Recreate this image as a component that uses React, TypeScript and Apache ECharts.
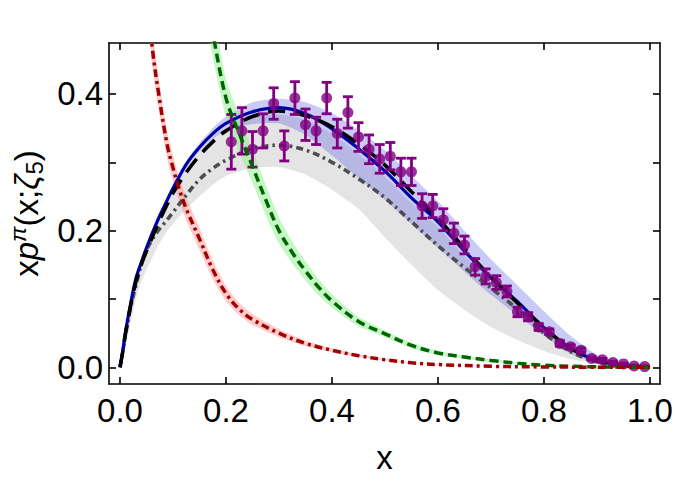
import React, { useEffect, useRef } from "react";
import * as echarts from "echarts";

// ---- data ----
const X_GRID = [0, 0.005, 0.01, 0.02, 0.03, 0.04, 0.05, 0.07, 0.085, 0.1, 0.125, 0.15, 0.175, 0.2, 0.25, 0.3, 0.35, 0.4, 0.45, 0.5, 0.55, 0.6, 0.65, 0.7, 0.75, 0.8, 0.85, 0.9, 0.95, 1];
const BLUE = [0, 0.022, 0.05, 0.093, 0.13, 0.153, 0.175, 0.213, 0.238, 0.262, 0.297, 0.322, 0.342, 0.357, 0.374, 0.38, 0.371, 0.349, 0.32, 0.287, 0.248, 0.213, 0.17, 0.131, 0.096, 0.058, 0.028, 0.01, 0.003, 0];
const BLUE_HI = [0, 0.022, 0.05, 0.093, 0.131, 0.154, 0.176, 0.215, 0.241, 0.266, 0.302, 0.328, 0.35, 0.367, 0.388, 0.393, 0.388, 0.372, 0.347, 0.318, 0.28, 0.243, 0.2, 0.158, 0.12, 0.082, 0.046, 0.018, 0.005, 0];
const BLUE_LO = [0, 0.022, 0.05, 0.093, 0.129, 0.152, 0.174, 0.211, 0.235, 0.258, 0.292, 0.316, 0.334, 0.347, 0.356, 0.357, 0.34, 0.31, 0.277, 0.245, 0.21, 0.175, 0.14, 0.106, 0.076, 0.046, 0.02, 0.007, 0.002, 0];
const BLACK = [0, 0.022, 0.048, 0.09, 0.125, 0.15, 0.17, 0.207, 0.232, 0.255, 0.285, 0.31, 0.33, 0.346, 0.367, 0.375, 0.368, 0.352, 0.327, 0.296, 0.257, 0.218, 0.174, 0.132, 0.094, 0.058, 0.028, 0.01, 0.003, 0];
const GRAY = [0, 0.022, 0.046, 0.088, 0.12, 0.15, 0.172, 0.198, 0.212, 0.227, 0.252, 0.275, 0.291, 0.303, 0.32, 0.325, 0.318, 0.3, 0.276, 0.248, 0.213, 0.178, 0.146, 0.116, 0.085, 0.05, 0.023, 0.008, 0.002, 0];
const GRAY_HI = [0, 0.022, 0.05, 0.092, 0.128, 0.153, 0.174, 0.212, 0.236, 0.258, 0.292, 0.316, 0.336, 0.35, 0.366, 0.37, 0.362, 0.342, 0.312, 0.279, 0.24, 0.205, 0.163, 0.126, 0.092, 0.055, 0.026, 0.009, 0.002, 0];
const GRAY_LO = [0, 0.015, 0.03, 0.065, 0.1, 0.125, 0.143, 0.175, 0.195, 0.21, 0.232, 0.25, 0.267, 0.28, 0.292, 0.293, 0.282, 0.26, 0.232, 0.19, 0.15, 0.113, 0.084, 0.059, 0.04, 0.024, 0.012, 0.005, 0.001, 0];

const RED_X = [0.045, 0.05, 0.06, 0.075, 0.09, 0.1, 0.11, 0.125, 0.15, 0.175, 0.2, 0.225, 0.25, 0.3, 0.35, 0.4, 0.45, 0.5, 0.55, 0.6, 0.7, 0.8, 0.9, 1.0];
const RED = [0.63, 0.57, 0.474, 0.39, 0.322, 0.292, 0.265, 0.232, 0.188, 0.143, 0.108, 0.085, 0.07, 0.05, 0.035, 0.025, 0.017, 0.011, 0.0065, 0.004, 0.0015, 0.0005, 0.0001, 0];
const RED_HI = [0.67, 0.605, 0.502, 0.413, 0.342, 0.311, 0.283, 0.249, 0.204, 0.157, 0.119, 0.094, 0.078, 0.056, 0.039, 0.028, 0.019, 0.012, 0.0072, 0.0045, 0.0017, 0.0006, 0.0001, 0];
const RED_LO = [0.59, 0.535, 0.446, 0.367, 0.302, 0.273, 0.247, 0.215, 0.172, 0.129, 0.097, 0.076, 0.062, 0.044, 0.031, 0.022, 0.015, 0.0098, 0.0058, 0.0035, 0.0013, 0.0004, 0.0001, 0];

const GREEN_X = [0.16, 0.175, 0.2, 0.225, 0.25, 0.275, 0.3, 0.325, 0.35, 0.375, 0.4, 0.45, 0.5, 0.55, 0.6, 0.65, 0.7, 0.75, 0.8, 0.85, 0.9, 0.95, 1.0];
const GREEN = [0.56, 0.49, 0.394, 0.342, 0.294, 0.245, 0.2, 0.168, 0.141, 0.117, 0.097, 0.067, 0.049, 0.032, 0.021, 0.015, 0.01, 0.006, 0.003, 0.0015, 0.0007, 0.0002, 0];
const GREEN_HI = [0.6, 0.525, 0.422, 0.369, 0.318, 0.267, 0.219, 0.184, 0.155, 0.129, 0.107, 0.074, 0.054, 0.036, 0.024, 0.017, 0.012, 0.007, 0.004, 0.002, 0.001, 0.0003, 0];
const GREEN_LO = [0.52, 0.455, 0.366, 0.315, 0.27, 0.223, 0.181, 0.152, 0.127, 0.105, 0.087, 0.06, 0.044, 0.028, 0.018, 0.013, 0.008, 0.005, 0.002, 0.001, 0.0004, 0.0001, 0];

const DATA_X = [0.21, 0.23, 0.25, 0.27, 0.29, 0.31, 0.33, 0.35, 0.37, 0.39, 0.41, 0.43, 0.45, 0.47, 0.49, 0.51, 0.53, 0.55, 0.57, 0.59, 0.61, 0.63, 0.65, 0.67, 0.69, 0.71, 0.73, 0.75, 0.77, 0.79, 0.81, 0.83, 0.85, 0.87, 0.89, 0.91, 0.93, 0.95, 0.97, 0.99];
const DATA_Y = [0.33, 0.346, 0.319, 0.346, 0.386, 0.324, 0.394, 0.355, 0.346, 0.394, 0.342, 0.373, 0.337, 0.319, 0.305, 0.309, 0.286, 0.286, 0.236, 0.236, 0.216, 0.196, 0.179, 0.147, 0.133, 0.124, 0.111, 0.081, 0.074, 0.059, 0.052, 0.035, 0.03, 0.025, 0.013, 0.011, 0.007, 0.005, 0.002, 0.001];
const DATA_ERR = [0.04, 0.034, 0.026, 0.025, 0.023, 0.022, 0.024, 0.023, 0.02, 0.023, 0.021, 0.023, 0.021, 0.021, 0.021, 0.02, 0.02, 0.02, 0.018, 0.017, 0.016, 0.015, 0.013, 0.012, 0.011, 0.01, 0.008, 0.007, 0.006, 0.005, 0.004, 0.004, 0.003, 0.003, 0.002, 0.002, 0.002, 0.001, 0.001, 0.001];

const X_TICKS = [0, 0.2, 0.4, 0.6, 0.8, 1.0];
const Y_TICKS = [0, 0.1, 0.2, 0.3, 0.4];
const Y_LABELS = [0, 0.2, 0.4];

const FONT = "'Liberation Sans', Arial, sans-serif";

function pairs(xs: number[], ys: number[]) {
  return xs.map((x, i) => [x, ys[i]]);
}

function bandSeries(xs: number[], lo: number[], hi: number[], fill: string, z: number) {
  return {
    type: "custom",
    z,
    silent: true,
    data: xs.map((x, i) => [x, lo[i], hi[i]]),
    encode: { x: 0, y: [1, 2] },
    renderItem: (params: any, api: any) => {
      if (params.dataIndex !== 0) return null;
      const top = xs.map((x, i) => api.coord([x, hi[i]]));
      const bot = xs.map((x, i) => api.coord([x, lo[i]])).reverse();
      const cs = params.coordSys;
      return {
        type: "polygon",
        shape: { points: top.concat(bot), smooth: 0.2 },
        style: { fill, stroke: "none" },
        clipPath: { type: "rect", shape: { x: cs.x, y: cs.y, width: cs.width, height: cs.height } },
      };
    },
  };
}

function lineSeries(xs: number[], ys: number[], color: string, width: number, type: any, z: number) {
  return {
    type: "line",
    z,
    data: pairs(xs, ys),
    showSymbol: false,
    symbol: "none",
    smooth: 0.35,
    clip: true,
    silent: true,
    lineStyle: { color, width, type, cap: "butt" },
  };
}

const tickCommon = { inside: true, length: 7, lineStyle: { color: "#000", width: 1.6 } };
const lineCommon = { show: true, onZero: false, lineStyle: { color: "#000", width: 1.6 } };

export default function App() {
  const ref = useRef<HTMLDivElement>(null);
  useEffect(() => {
    if (!ref.current) return;
    const chart = echarts.init(ref.current, undefined, { renderer: "svg" });
    const option: any = {
      animation: false,
      backgroundColor: "#fff",
      grid: { left: 109, right: 15, top: 43, bottom: 98, containLabel: false, outerBoundsMode: "none" },
      xAxis: [
        {
          type: "value",
          min: -0.02075,
          max: 1.0189,
          position: "bottom",
          splitLine: { show: false },
          axisLine: lineCommon,
          axisTick: { ...tickCommon, customValues: X_TICKS },
          axisLabel: {
            customValues: X_TICKS,
            formatter: (v: number) => v.toFixed(1),
            fontSize: 33,
            fontFamily: FONT,
            color: "#000",
            margin: 10,
          },
          name: "x",
          nameLocation: "middle",
          nameGap: 57,
          nameTextStyle: { fontSize: 33, fontFamily: FONT, color: "#000" },
        },
        {
          type: "value",
          min: -0.02075,
          max: 1.0189,
          position: "top",
          splitLine: { show: false },
          axisLine: lineCommon,
          axisTick: { ...tickCommon, customValues: X_TICKS },
          axisLabel: { show: false },
        },
      ],
      yAxis: [
        {
          type: "value",
          min: -0.02444,
          max: 0.4746,
          position: "left",
          splitLine: { show: false },
          axisLine: lineCommon,
          axisTick: { ...tickCommon, customValues: Y_TICKS },
          axisLabel: {
            customValues: Y_LABELS,
            formatter: (v: number) => v.toFixed(1),
            fontSize: 33,
            fontFamily: FONT,
            color: "#000",
            margin: 6,
          },
          name: "{a|x}{i|p}{sup|π}{a|(x;}{i|ζ}{sub|5}{a|)}",
          nameLocation: "middle",
          nameRotate: 90,
          nameGap: 62,
          nameTextStyle: {
            fontSize: 33,
            fontFamily: FONT,
            color: "#000",
            rich: {
              a: { fontSize: 33, fontFamily: FONT, color: "#000", lineHeight: 40 },
              i: { fontSize: 33, fontFamily: FONT, fontStyle: "italic", color: "#000", lineHeight: 40 },
              sup: { fontSize: 23, fontFamily: FONT, fontStyle: "italic", color: "#000", lineHeight: 8, verticalAlign: "top" },
              sub: { fontSize: 24, fontFamily: FONT, color: "#000", lineHeight: 28, verticalAlign: "bottom" },
            },
          },
        },
        {
          type: "value",
          min: -0.02444,
          max: 0.4746,
          position: "right",
          splitLine: { show: false },
          axisLine: lineCommon,
          axisTick: { ...tickCommon, customValues: Y_TICKS },
          axisLabel: { show: false },
        },
      ],
      series: [
        bandSeries(X_GRID, GRAY_LO, GRAY_HI, "#e4e4e4", 1),
        bandSeries(X_GRID, BLUE_LO, BLUE_HI, "rgba(90,90,230,0.32)", 2),
        bandSeries(GREEN_X, GREEN_LO, GREEN_HI, "rgba(140,240,140,0.5)", 2),
        bandSeries(RED_X, RED_LO, RED_HI, "rgba(255,140,140,0.45)", 2),
        lineSeries(X_GRID, GRAY, "#4d4d4d", 3.6, [7, 4, 2.5, 4], 3),
        lineSeries(X_GRID, BLUE, "#0000aa", 3.2, "solid", 4),
        lineSeries(X_GRID, BLACK, "#000000", 3.6, [17, 9], 5),
        {
          type: "custom",
          z: 6,
          silent: true,
          data: DATA_X.map((x, i) => [x, DATA_Y[i], DATA_ERR[i]]),
          encode: { x: 0, y: 1 },
          renderItem: (params: any, api: any) => {
            const x = api.value(0);
            const y = api.value(1);
            const e = api.value(2);
            const t = api.coord([x, y + e]);
            const b = api.coord([x, y - e]);
            const hw = 5;
            const st = { stroke: "#800080", lineWidth: 2.8 };
            return {
              type: "group",
              children: [
                { type: "line", shape: { x1: t[0], y1: t[1], x2: b[0], y2: b[1] }, style: st },
                { type: "line", shape: { x1: t[0] - hw, y1: t[1], x2: t[0] + hw, y2: t[1] }, style: st },
                { type: "line", shape: { x1: b[0] - hw, y1: b[1], x2: b[0] + hw, y2: b[1] }, style: st },
              ],
            };
          },
        },
        {
          type: "scatter",
          z: 7,
          silent: true,
          symbol: "circle",
          symbolSize: 11,
          itemStyle: { color: "#800080" },
          data: pairs(DATA_X, DATA_Y),
        },
        lineSeries(GREEN_X, GREEN, "#006400", 3.5, [9, 5], 8),
        lineSeries(RED_X, RED, "#a00000", 3.5, [8, 4, 3, 4], 9),
      ],
    };
    chart.setOption(option);
    return () => chart.dispose();
  }, []);
  return (
    <div
      ref={ref}
      style={{ position: "fixed", left: 0, top: 0, width: 675, height: 482, background: "#fff" }}
    />
  );
}
